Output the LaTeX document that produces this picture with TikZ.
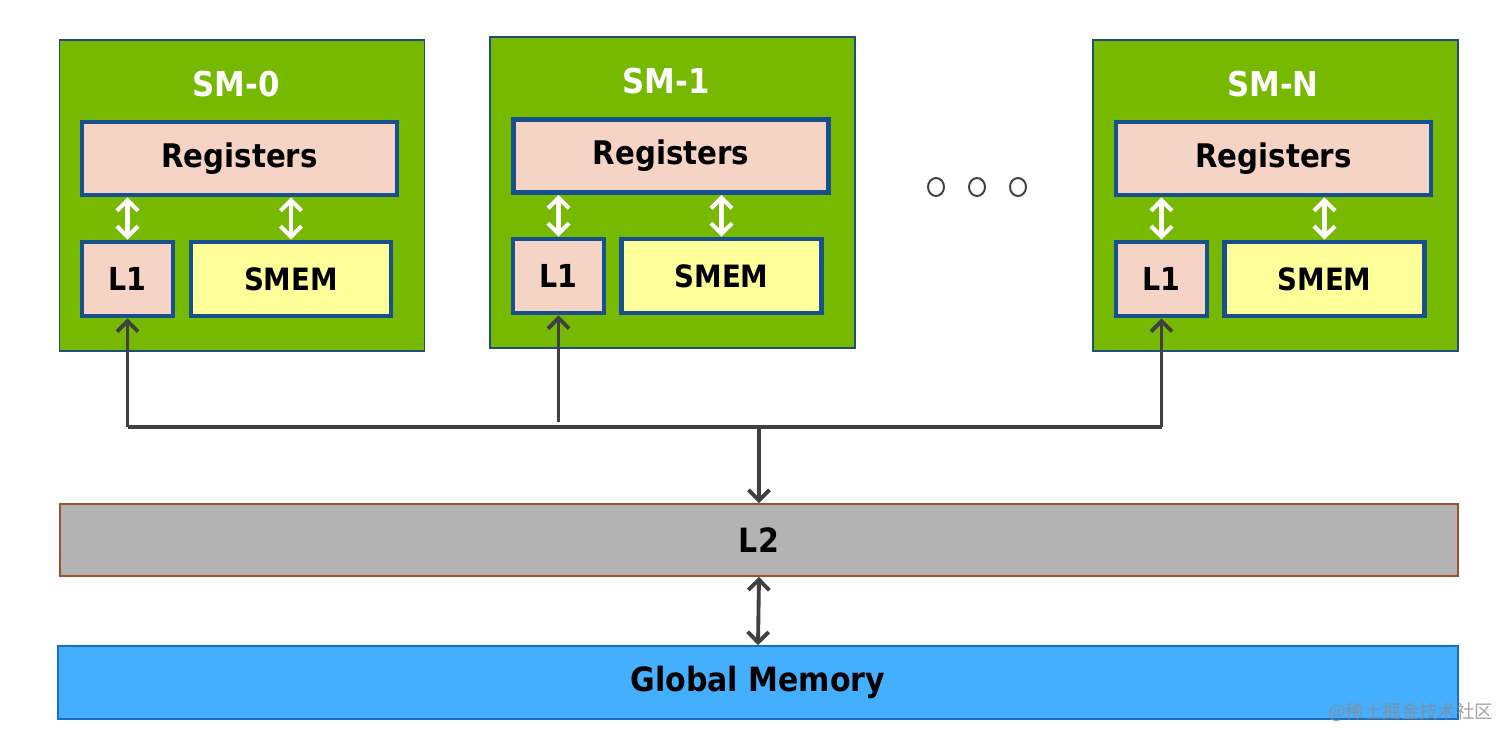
\documentclass[tikz,border=0pt]{standalone}
\usepackage{fontspec}
\newfontfamily\diagfont{DejaVu Sans Condensed}
\newfontfamily\cjkfont{Noto Sans CJK SC}
\usetikzlibrary{arrows.meta}
\definecolor{smgreen}{HTML}{76B900}
\definecolor{smedge}{HTML}{1F4E79}
\definecolor{boxedge}{HTML}{18508E}
\definecolor{regfill}{HTML}{F5D3C5}
\definecolor{smemfill}{HTML}{FFFF99}
\definecolor{ltwofill}{HTML}{B3B3B3}
\definecolor{ltwoedge}{HTML}{A0502D}
\definecolor{gmemfill}{HTML}{44AEFF}
\definecolor{gmemedge}{HTML}{1A6FC4}
\definecolor{wire}{HTML}{404040}
\begin{document}
\begin{tikzpicture}[x=0.02cm,y=-0.02cm,
    sm/.style={draw=smedge,line width=0.9pt,fill=smgreen,minimum width=7.3cm,minimum height=6.22cm},
    title/.style={text=white,font=\diagfont\bfseries\fontsize{19.5}{22}\selectfont},
    reg/.style={draw=boxedge,line width=2.6pt,fill=regfill,minimum width=6.3cm,minimum height=1.46cm,font=\diagfont\bfseries\fontsize{18.5}{21}\selectfont},
    lone/.style={draw=boxedge,line width=2.6pt,fill=regfill,minimum width=1.82cm,minimum height=1.48cm,font=\diagfont\bfseries\fontsize{18}{21}\selectfont},
    smem/.style={draw=boxedge,line width=2.6pt,fill=smemfill,minimum width=4cm,minimum height=1.48cm,font=\diagfont\bfseries\fontsize{17.5}{20}\selectfont},
    wharrow/.style={draw=white,line width=2.4pt,{Straight Barb[length=6pt,width=12pt]}-{Straight Barb[length=6pt,width=12pt]}},
    darrow/.style={draw=wire,line width=2.2pt,-{Straight Barb[length=6pt,width=12pt]}},
    bus/.style={draw=wire,line width=2.2pt}]
  \useasboundingbox (0,0) rectangle (1507,744);
  % SM-0
  \node[sm] (sm0) at (242,195.5) {};
  \node[title] (t0) at (236,84) {SM-0};
  \node[reg] (reg0) at (239.5,158.5) {Registers};
  \node[lone] (l10) at (127.5,279) {L1};
  \node[smem] (smem0) at (291,279) {SMEM};
  % SM-1
  \node[sm] (sm1) at (672.5,192.5) {};
  \node[title] (t1) at (666,81) {SM-1};
  \node[reg] (reg1) at (671,156) {Registers};
  \node[lone] (l11) at (558.5,276) {L1};
  \node[smem] (smem1) at (721.5,276) {SMEM};
  % SM-N
  \node[sm] (smn) at (1275.5,195.5) {};
  \node[title] (tn) at (1273,84) {SM-N};
  \node[reg] (regn) at (1273.5,158.5) {Registers};
  \node[lone] (l1n) at (1161.5,279) {L1};
  \node[smem] (smemn) at (1324.5,279) {SMEM};
  % dots
  \draw[wire,line width=1.1pt] (936,187) ellipse (8 and 9);
  \draw[wire,line width=1.1pt] (977,187) ellipse (8 and 9);
  \draw[wire,line width=1.1pt] (1018,187) ellipse (8 and 9);
  % L2 and global memory
  \node[draw=ltwoedge,line width=1pt,fill=ltwofill,minimum width=27.96cm,minimum height=1.44cm,font=\diagfont\bfseries\fontsize{19}{22}\selectfont] (l2) at (759,540) {L2};
  \node[draw=gmemedge,line width=1pt,fill=gmemfill,minimum width=28cm,minimum height=1.46cm,font=\diagfont\bfseries\fontsize{19}{22}\selectfont] (gmem) at (758,682.5) {Global Memory};
  % inside the SMs
  \draw[wharrow] (l10.north) -- (l10.north |- reg0.south);
  \draw[wharrow] (smem0.north) -- (smem0.north |- reg0.south);
  \draw[wharrow] (l11.north) -- (l11.north |- reg1.south);
  \draw[wharrow] (smem1.north) -- (smem1.north |- reg1.south);
  \draw[wharrow] (l1n.north) -- (l1n.north |- regn.south);
  \draw[wharrow] (smemn.north) -- (smemn.north |- regn.south);
  % bus
  \draw[bus] (l10.south |- 0,427) -- (l1n.south |- 0,427);
  \draw[darrow] (l10.south |- 0,427) -- (l10.south);
  \draw[darrow] (l11.south |- 0,422) -- (l11.south);
  \draw[darrow] (l1n.south |- 0,427) -- (l1n.south);
  \draw[darrow] (l2.north |- 0,427) -- (l2.north);
  \draw[darrow,{Straight Barb[length=6pt,width=12pt]}-{Straight Barb[length=6pt,width=12pt]}] (l2.south) -- (gmem.north);
  \node[anchor=west,text=black!45,opacity=0.8,font=\cjkfont\fontsize{10.5}{12}\selectfont] (mark) at (1322,712) {@稀土掘金技术社区};
\end{tikzpicture}
\end{document}
